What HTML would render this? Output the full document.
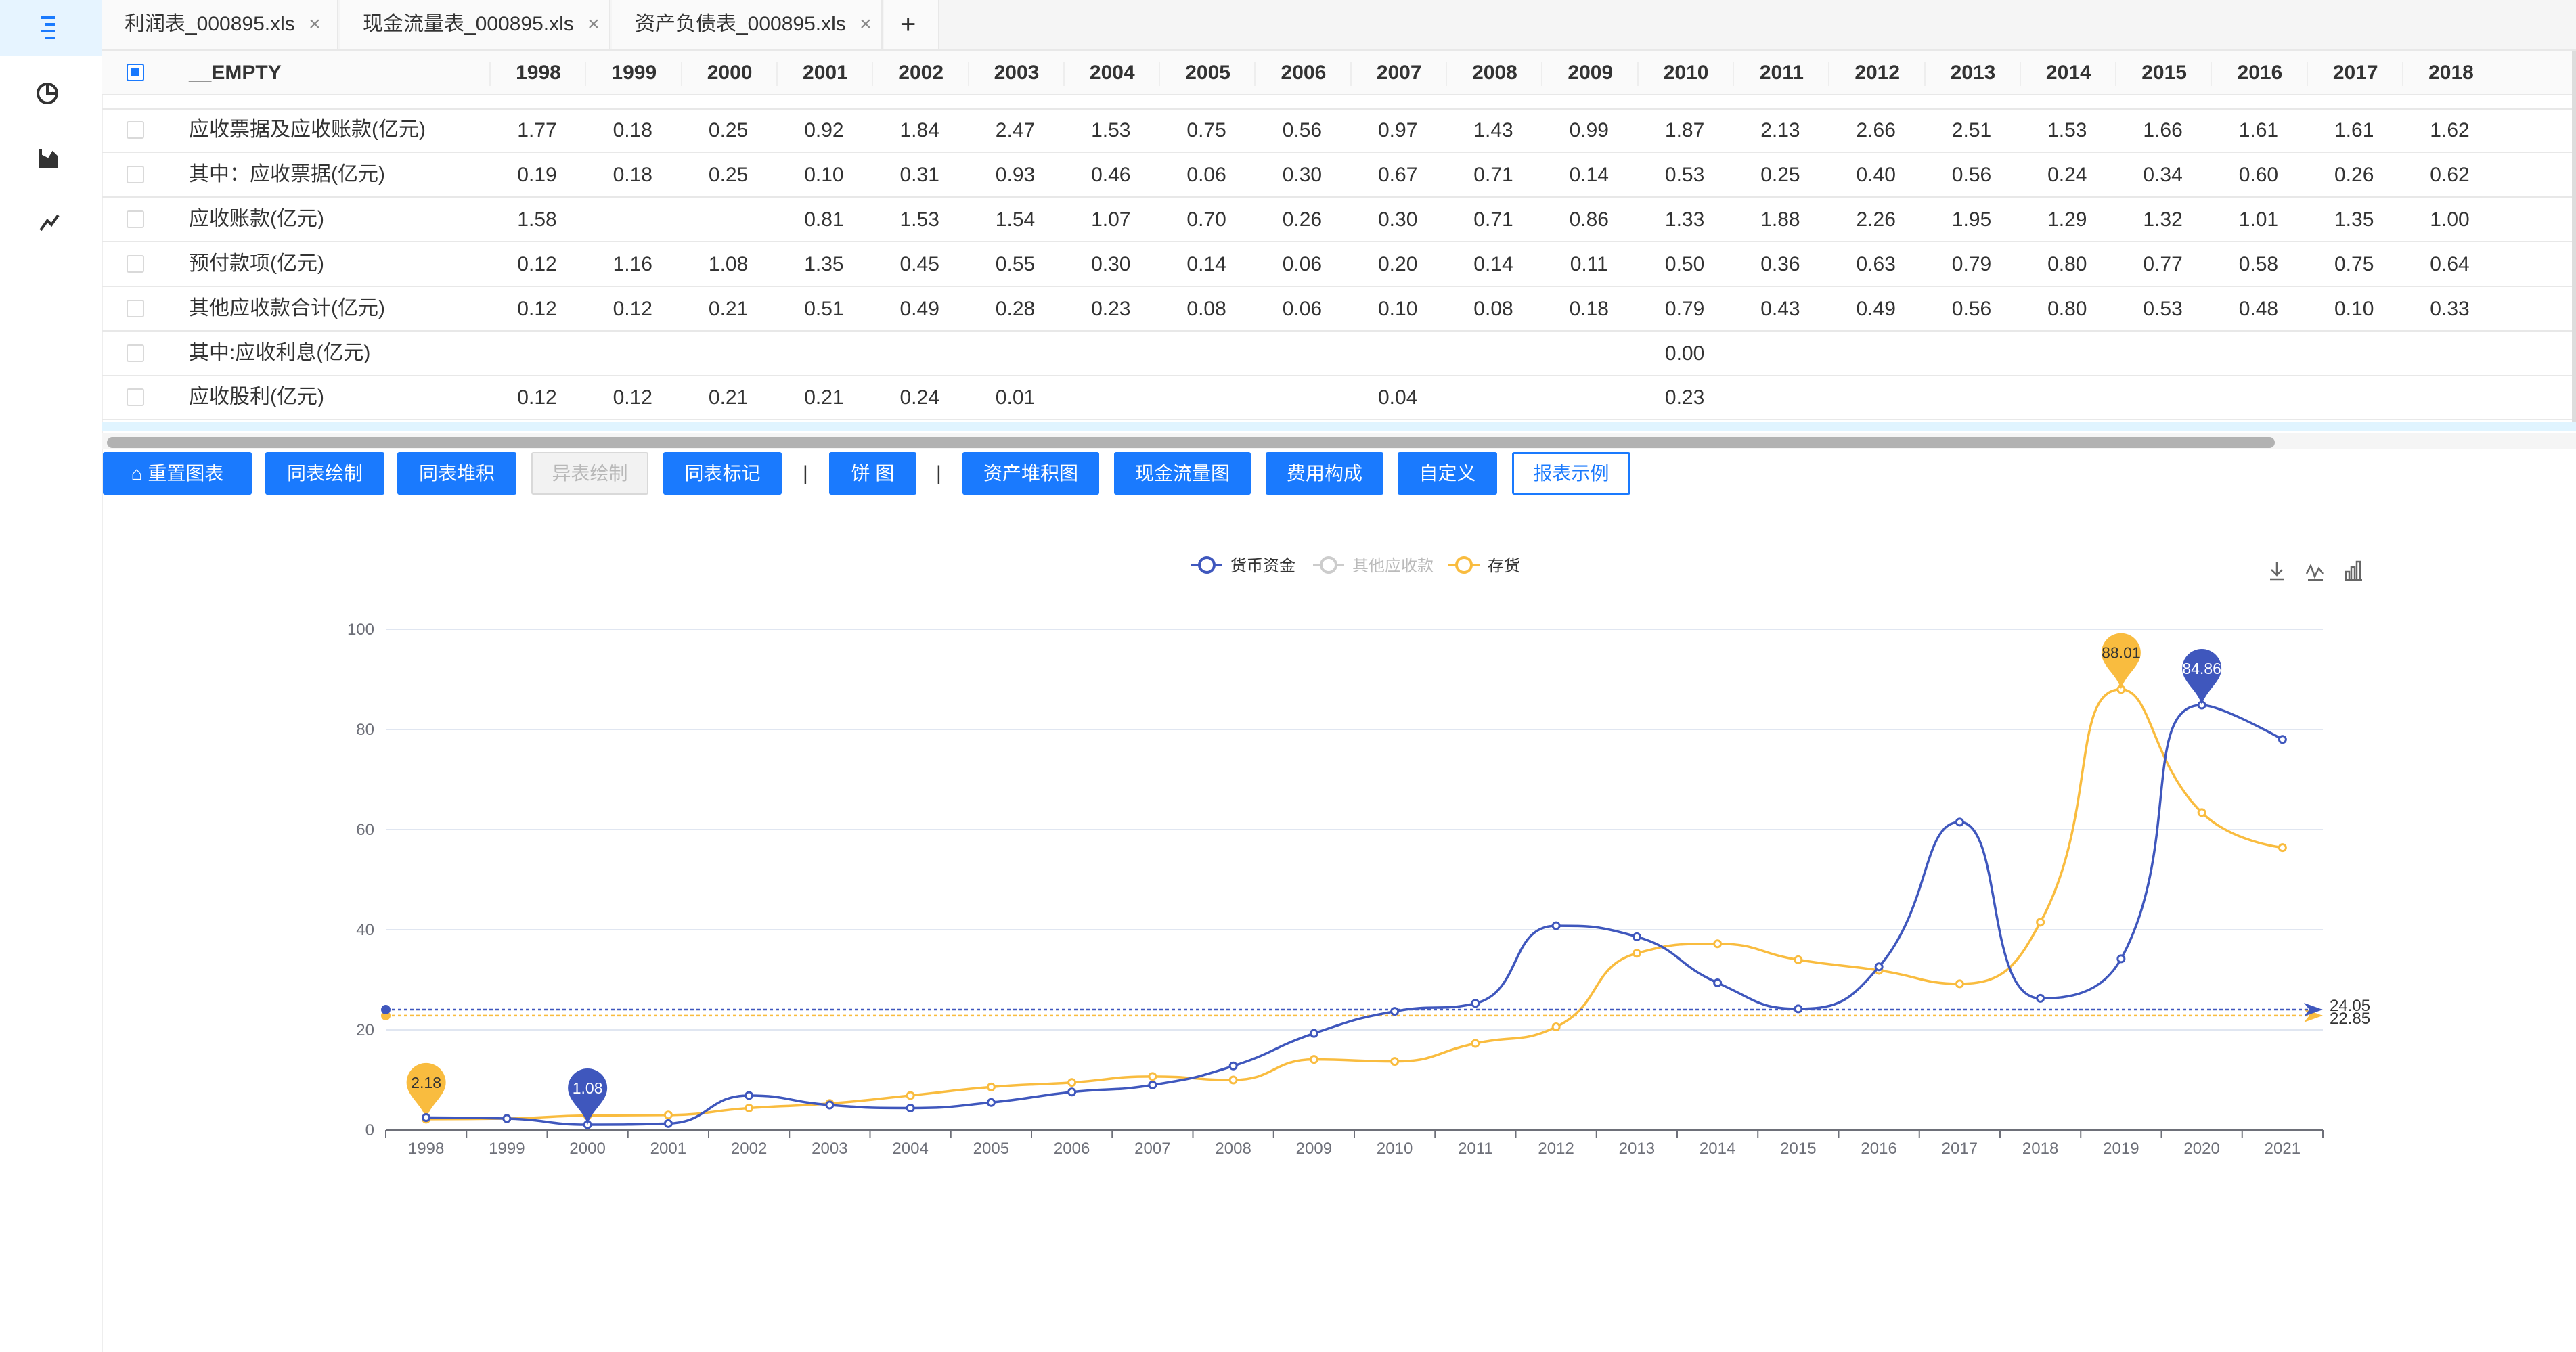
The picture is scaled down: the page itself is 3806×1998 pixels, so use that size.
<!DOCTYPE html>
<html><head><meta charset="utf-8">
<style>
body{margin:0;width:3806px;height:1998px;position:relative;overflow:hidden;background:#fff;font-family:"Liberation Sans","Noto Sans CJK SC",sans-serif;color:#333}
.abs{position:absolute}
.side{left:0;top:0;width:150px;height:1998px;background:#fff;border-right:2px solid #eee}
.tabbar{left:150px;top:0;width:3656px;height:73px;background:#f5f5f5;border-bottom:2px solid #e8e8e8}
.tab{position:absolute;top:0;height:72px;background:#fafafa;border-right:2px solid #e8e8e8;font-size:30px;line-height:72px;color:#333;padding-left:34px;box-sizing:border-box}
.hdr{left:150px;top:75px;width:3656px;height:64px;background:#fafafa;border-bottom:2px solid #e8e8e8}
.cell{position:absolute;font-size:30px;text-align:center;width:141px}
.btn{position:absolute;top:668px;height:63px;background:#1a7afe;color:#fff;font-size:28px;line-height:63px;text-align:center;border-radius:3px}
.cb{position:absolute;width:26px;height:26px;border:2px solid #d9d9d9;border-radius:3px;background:#fff;box-sizing:border-box}
</style></head><body>
<div class="abs side">
 <div class="abs" style="left:0;top:0;width:150px;height:83px;background:#e6f4ff"></div>
 <svg class="abs" style="left:0;top:0" width="150" height="360">
  <g stroke="#1a7afe" stroke-width="4"><line x1="60" y1="26" x2="82" y2="26"/><line x1="66" y1="36" x2="82" y2="36"/><line x1="60" y1="46" x2="82" y2="46"/><line x1="66" y1="56" x2="82" y2="56"/></g>
  <g fill="none" stroke="#333" stroke-width="4"><circle cx="70" cy="138" r="14"/><path d="M70 124 V138 H84"/>
  <path d="M60 220 V246 H86"/><path d="M64 244 L64 232 L72 236 L78 226 L84 232 L84 244Z" fill="#333"/>
  <path d="M60 340 L70 326 L76 332 L86 318"/></g>
 </svg>
</div>
<div class="abs tabbar">
 <div class="tab" style="left:0;width:350px">利润表_000895.xls <span style="color:#888;margin-left:12px">×</span></div>
 <div class="tab" style="left:352px;width:400px">现金流量表_000895.xls <span style="color:#888;margin-left:12px">×</span></div>
 <div class="tab" style="left:754px;width:400px">资产负债表_000895.xls <span style="color:#888;margin-left:12px">×</span></div>
 <div class="tab" style="left:1156px;width:82px;font-size:40px;padding-left:24px">+</div>
</div>
<div class="abs hdr" id="hdr">
 <div class="cb" style="left:37px;top:19px;border-color:#1a7afe"><div style="position:absolute;left:5px;top:5px;width:12px;height:12px;background:#1a7afe"></div></div>
 <div class="abs" style="left:129px;top:16px;font-size:30px;font-weight:bold">__EMPTY</div>
</div>
<div class="abs" id="rows" style="left:150px;top:139px;width:3656px;height:484px"></div>
<div class="abs" style="left:3800px;top:75px;width:6px;height:560px;background:#ddd"></div>
<div class="abs" style="left:150px;top:623px;width:3656px;height:14px;background:#e0f4ff"></div>
<div class="abs" style="left:150px;top:640px;width:3656px;height:24px;background:#f5f5f5"></div>
<div class="abs" style="left:158px;top:646px;width:3203px;height:16px;background:#b2b2b2;border-radius:8px"></div>
<div id="btns"></div>
<svg id="chart" class="abs" style="left:0;top:0" width="3806" height="1998"></svg>
<script>
const years=["1998","1999","2000","2001","2002","2003","2004","2005","2006","2007","2008","2009","2010","2011","2012","2013","2014","2015","2016","2017","2018"];
const rowLabels=["应收票据及应收账款(亿元)","其中：应收票据(亿元)","应收账款(亿元)","预付款项(亿元)","其他应收款合计(亿元)","其中:应收利息(亿元)","应收股利(亿元)"];
const row1=["1.77","0.18","0.25","0.92","1.84","2.47","1.53","0.75","0.56","0.97","1.43","0.99","1.87","2.13","2.66","2.51","1.53","1.66","1.61","1.61","1.62"];
const row2=["0.19","0.18","0.25","0.10","0.31","0.93","0.46","0.06","0.30","0.67","0.71","0.14","0.53","0.25","0.40","0.56","0.24","0.34","0.60","0.26","0.62"];
const row3=["1.58","","","0.81","1.53","1.54","1.07","0.70","0.26","0.30","0.71","0.86","1.33","1.88","2.26","1.95","1.29","1.32","1.01","1.35","1.00"];
const row4=["0.12","1.16","1.08","1.35","0.45","0.55","0.30","0.14","0.06","0.20","0.14","0.11","0.50","0.36","0.63","0.79","0.80","0.77","0.58","0.75","0.64"];
const row5=["0.12","0.12","0.21","0.51","0.49","0.28","0.23","0.08","0.06","0.10","0.08","0.18","0.79","0.43","0.49","0.56","0.80","0.53","0.48","0.10","0.33"];
const row6=["","","","","","","","","","","","","0.00","","","","","","","",""];
const row7=["0.12","0.12","0.21","0.21","0.24","0.01","","","","0.04","","","0.23","","","","","","","",""];
const rowsData=[row1,row2,row3,row4,row5,row6,row7];
const hdr=document.getElementById('hdr');
years.forEach((y,i)=>{
  const d=document.createElement('div');
  d.className='cell';
  
  
  d.style.left=(573+i*141.3)+'px';d.style.top='16px';d.style.fontWeight='bold';
  d.style.borderLeft='2px solid #eee';d.style.height='36px';
  d.textContent=y;hdr.appendChild(d);
});
const rows=document.getElementById('rows');
const part=document.createElement('div');
part.style.cssText='position:absolute;left:0;top:0;width:3656px;height:21px;border-bottom:2px solid #e8e8e8';
rows.appendChild(part);
rowLabels.forEach((lab,r)=>{
  const top=21+r*65.9;
  const rw=document.createElement('div');
  
  
  rw.style.cssText='position:absolute;left:0;top:'+top+'px;width:3656px;height:64px;border-bottom:2px solid #e8e8e8';
  const cb=document.createElement('div');cb.className='cb';
  
  
  cb.style.left='37px';cb.style.top='19px';rw.appendChild(cb);
  const l=document.createElement('div');
  
  
  l.style.cssText='position:absolute;left:129px;top:12px;font-size:30px;line-height:40px';
  l.textContent=lab;rw.appendChild(l);
  rowsData[r].forEach((v,i)=>{
    const c=document.createElement('div');c.className='cell';
    
    
    c.style.left=(573+i*141.3)+'px';c.style.top='16px';c.textContent=v;rw.appendChild(c);
  });
  rows.appendChild(rw);
});
const btnLabels=["⌂ 重置图表","同表绘制","同表堆积","异表绘制","同表标记","|","饼 图","|","资产堆积图","现金流量图","费用构成","自定义","报表示例"];
const btnX=[[152,372],[392,568],[587,763],[785,958],[980,1155],[1186,0],[1225,1354],[1383,0],[1422,1624],[1646,1848],[1870,2044],[2065,2212],[2234,2409]];
const bw=document.getElementById('btns');
btnLabels.forEach((t,i)=>{
  const b=document.createElement('div');
  if(t==='|'){b.className='abs';b.style.cssText='left:'+btnX[i][0]+'px;top:683px;font-size:30px;color:#333';b.textContent='|';
    
    
  } else {
    b.className='btn';b.style.left=btnX[i][0]+'px';b.style.width=(btnX[i][1]-btnX[i][0])+'px';b.textContent=t;
    if(i===3){b.style.background='#f2f2f2';b.style.color='#b8b8b8';b.style.border='2px solid #d9d9d9';b.style.boxSizing='border-box';b.style.lineHeight='59px';}
    if(i===12){b.style.background='#fff';b.style.color='#1a7afe';b.style.border='3px solid #1a7afe';b.style.boxSizing='border-box';b.style.lineHeight='57px';}
    
    
  }
  bw.appendChild(b);
});

// ---- chart data ----
const cats=["1998","1999","2000","2001","2002","2003","2004","2005","2006","2007","2008","2009","2010","2011","2012","2013","2014","2015","2016","2017","2018","2019","2020","2021"];
const cash=[2.5,2.3,1.08,1.3,6.9,5.0,4.4,5.5,7.6,9.0,12.8,19.3,23.7,25.3,40.8,38.6,29.4,24.2,32.6,61.5,26.3,34.2,84.86,78.0];
const stock=[2.18,2.3,2.9,3.0,4.4,5.3,6.9,8.6,9.5,10.7,10.0,14.1,13.7,17.3,20.6,35.3,37.2,34.0,31.9,29.2,41.5,88.01,63.4,56.4];
const yTicks=[0,20,40,60,80,100];
const NS='http://www.w3.org/2000/svg';
const svg=document.getElementById('chart');
const X0=570,X1=3432,Y0=1670,Y1=930;
const step=(X1-X0)/cats.length;
const xs=i=>X0+step*(i+0.5);
const ys=v=>Y0-(v/100)*(Y0-Y1);
function el(tag,attrs,name,inter){const e=document.createElementNS(NS,tag);for(const k in attrs)e.setAttribute(k,attrs[k]);
  
  
  svg.appendChild(e);return e;}
yTicks.forEach(t=>{
  if(t>0)el('line',{x1:X0,x2:X1,y1:ys(t),y2:ys(t),stroke:'#e0e6f1','stroke-width':2},'y-gridline',false);
  const tx=el('text',{x:X0-17,y:ys(t)+8,'text-anchor':'end','font-size':24,fill:'#6e7079'},'y-tick-label',false);tx.textContent=t;
});
el('line',{x1:X0,x2:X1,y1:Y0,y2:Y0,stroke:'#6e7079','stroke-width':2},'x-axis',false);
for(let i=0;i<=cats.length;i++)el('line',{x1:X0+step*i,x2:X0+step*i,y1:Y0,y2:Y0+12,stroke:'#6e7079','stroke-width':2},'x-tick',false);
cats.forEach((c,i)=>{const t=el('text',{x:xs(i),y:Y0+35,'text-anchor':'middle','font-size':24,fill:'#6e7079'},'x-tick-label',false);t.textContent=c;});
function smooth(arr){
  const n=arr.length,P=arr.map((v,i)=>[xs(i),ys(v)]);
  const cpL=[],cpR=[];
  for(let i=0;i<n;i++){
    if(i===0||i===n-1){cpL[i]=P[i];cpR[i]=P[i];continue;}
    const pr=P[i-1],nx=P[i+1],c=P[i];
    const dx=nx[0]-pr[0],dy=nx[1]-pr[1];
    const d0=Math.hypot(c[0]-pr[0],c[1]-pr[1]),d1=Math.hypot(nx[0]-c[0],nx[1]-c[1]);
    const s=0.5,t0=d0/(d0+d1),t1=d1/(d0+d1);
    let l=[c[0]-dx*s*t0,c[1]-dy*s*t0],r=[c[0]+dx*s*t1,c[1]+dy*s*t1];
    const lo=Math.min(pr[1],c[1]),hi=Math.max(pr[1],c[1]);l[1]=Math.max(lo,Math.min(hi,l[1]));
    const lo2=Math.min(nx[1],c[1]),hi2=Math.max(nx[1],c[1]);r[1]=Math.max(lo2,Math.min(hi2,r[1]));
    const ldx=c[0]-l[0],rdx=r[0]-c[0];
    const sl=ldx?(c[1]-l[1])/ldx:0,sr=rdx?(r[1]-c[1])/rdx:0;
    const sm=Math.abs(sl)<Math.abs(sr)?sl:sr;
    l=[l[0],c[1]-sm*ldx];r=[r[0],c[1]+sm*rdx];
    cpL[i]=l;cpR[i]=r;
  }
  let d='M'+P[0][0]+' '+P[0][1];
  for(let i=0;i<n-1;i++)d+=' C'+cpR[i][0]+' '+cpR[i][1]+' '+cpL[i+1][0]+' '+cpL[i+1][1]+' '+P[i+1][0]+' '+P[i+1][1];
  return d;
}
function avg(a){return a.reduce((s,v)=>s+v,0)/a.length;}
function series(arr,color,nm){
  const a=avg(arr);
  el('line',{x1:X0,x2:X1-20,y1:ys(a),y2:ys(a),stroke:color,'stroke-width':2.5,'stroke-dasharray':'5 4'},nm+'-average-line',false);
  el('circle',{cx:X0,cy:ys(a),r:7,fill:color},nm+'-average-start',false);
  el('path',{d:`M${X1-28} ${ys(a)-10} L${X1} ${ys(a)} L${X1-28} ${ys(a)+10} L${X1-20} ${ys(a)}Z`,fill:color},nm+'-average-arrow',false);
  const t=el('text',{x:X1+10,y:ys(a)+(nm==='cash'?2:12),'font-size':24,fill:'#333'},nm+'-average-label',false);t.textContent=a.toFixed(2);
  el('path',{d:smooth(arr),fill:'none',stroke:color,'stroke-width':3.5},nm+'-line',false);
  arr.forEach((v,i)=>el('circle',{cx:xs(i),cy:ys(v),r:5,fill:'#fff',stroke:color,'stroke-width':3},nm+'-point',true));
  function pin(i,txtColor){
    const x=xs(i),y=ys(arr[i]),r=29,cy=y-54;
    el('path',{d:`M${x} ${y} C${x-6} ${cy+32} ${x-r} ${cy+20} ${x-r} ${cy} A${r} ${r} 0 1 1 ${x+r} ${cy} C${x+r} ${cy+20} ${x+6} ${cy+32} ${x} ${y}Z`,fill:color},nm+'-mark-pin',true);
    const t=el('text',{x:x,y:cy+8,'text-anchor':'middle','font-size':23,fill:txtColor},nm+'-mark-label',false);t.textContent=arr[i].toFixed(2);
  }
  let mx=0,mn=0;arr.forEach((v,i)=>{if(v>arr[mx])mx=i;if(v<arr[mn])mn=i;});
  pin(mx,nm==='cash'?'#fff':'#333');pin(mn,nm==='cash'?'#fff':'#333');
}
series(stock,'#f9bc3f','stock');
series(cash,'#3f57bd','cash');
const leg=[["货币资金","#3f57bd","#333",1760],["其他应收款","#ccc","#bbb",1940],["存货","#f9bc3f","#333",2140]];
leg.forEach(l=>{
  el('line',{x1:l[3],x2:l[3]+46,y1:835,y2:835,stroke:l[1],'stroke-width':4},'legend-icon',true);
  el('circle',{cx:l[3]+23,cy:835,r:11,fill:'#fff',stroke:l[1],'stroke-width':4},'legend-icon',true);
  const t=el('text',{x:l[3]+58,y:844,'font-size':24,fill:l[2]},'legend-entry',true);t.textContent=l[0];
});
el('path',{d:'M3364 830 V850 M3356 842 L3364 850 L3372 842 M3354 856 H3374',stroke:'#666','stroke-width':2.5,fill:'none'},'download-icon',true);
el('path',{d:'M3408 848 L3414 836 L3420 852 L3426 840 L3432 848 M3410 857 H3432',stroke:'#666','stroke-width':2.5,fill:'none'},'line-toggle-icon',true);
el('path',{d:'M3466 856 V845 H3471 V856 M3474 856 V838 H3479 V856 M3482 856 V830 H3487 V856 M3464 857 H3490',stroke:'#666','stroke-width':2.5,fill:'none'},'bar-toggle-icon',true);
</script>
</body></html>
